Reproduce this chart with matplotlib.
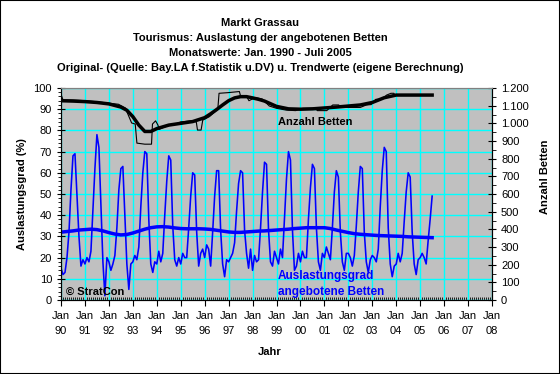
import numpy as np
import matplotlib.pyplot as plt
from matplotlib.patches import Rectangle

plt.rcParams['font.family'] = ['Liberation Sans', 'DejaVu Sans']

titel = [
    "Markt Grassau",
    "Tourismus: Auslastung der angebotenen Betten",
    "Monatswerte: Jan. 1990 - Juli 2005",
    "Original- (Quelle: Bay.LA f.Statistik u.DV) u. Trendwerte (eigene Berechnung)",
]

jahre = list(range(1990, 2009))
x_labels = [f"Jan\n{j % 100:02d}" for j in jahre]

# Auslastungsgrad in %, Monatswerte Jan 1990 - Jul 2005
auslastung = [
    15, 12, 13, 20, 32, 52, 68, 69, 50, 30, 16, 19,   # 1990
    17, 20, 18, 23, 42, 62, 78, 72, 45, 18, 2, 20,    # 1991
    18, 14, 17, 21, 34, 52, 62, 63, 40, 17, 5, 17,    # 1992
    18, 21, 19, 25, 44, 60, 70, 69, 38, 17, 13, 18,   # 1993
    17, 23, 18, 22, 40, 56, 68, 66, 35, 19, 16, 20,   # 1994
    17, 22, 20, 20, 34, 49, 60, 59, 32, 16, 22, 24,   # 1995
    20, 26, 24, 16, 32, 49, 61, 61, 33, 17, 11, 19,   # 1996
    18, 20, 22, 27, 42, 55, 61, 60, 33, 22, 15, 24,   # 1997
    14, 21, 18, 19, 34, 51, 65, 64, 33, 18, 16, 23,   # 1998
    20, 17, 24, 20, 38, 57, 70, 66, 33, 14, 16, 22,   # 1999
    18, 23, 20, 20, 38, 53, 64, 62, 34, 18, 14, 22,   # 2000
    20, 25, 22, 19, 34, 51, 61, 58, 32, 18, 14, 22,   # 2001
    22, 20, 16, 21, 35, 51, 63, 62, 32, 18, 13, 19,   # 2002
    21, 20, 18, 24, 44, 61, 72, 70, 34, 17, 11, 16,   # 2003
    17, 22, 18, 22, 37, 51, 60, 58, 32, 17, 12, 19,   # 2004
    20, 22, 20, 17, 28, 38, 49,                       # 2005
]

# Trend Auslastung, Quartalswerte
auslastung_trend = [
    32.0, 32.3, 32.6, 33.0, 33.2, 33.4, 33.2, 32.6,
    31.8, 31.1, 30.7, 30.9, 31.6, 32.5, 33.4, 34.1,
    34.5, 34.6, 34.4, 34.0, 33.7, 33.6, 33.6, 33.6,
    33.5, 33.3, 32.9, 32.5, 32.1, 31.9, 31.9, 32.1,
    32.3, 32.5, 32.6, 32.8, 33.0, 33.2, 33.4, 33.7,
    33.9, 34.1, 34.1, 34.1, 34.1, 33.7, 33.0, 32.4,
    31.8, 31.3, 31.0, 30.8, 30.6, 30.4, 30.3, 30.2,
    30.1, 30.0, 29.8, 29.7, 29.6, 29.5, 29.4,
]

# Anzahl Betten (Original)
betten_x = [1990.0, 1990.08, 1990.5, 1991.0, 1991.5, 1992.0, 1992.4, 1992.7, 1992.75,
            1992.95, 1993.1, 1993.17, 1993.5, 1993.78, 1993.82, 1993.95, 1994.05, 1994.1,
            1994.4, 1994.8, 1995.0, 1995.4, 1995.65, 1995.7, 1995.85, 1995.92, 1996.2,
            1996.45, 1996.55, 1996.6, 1997.0, 1997.45, 1997.5, 1997.75, 1997.85, 1998.1,
            1998.4, 1998.7, 1999.0, 1999.4, 1999.8, 2000.1, 2000.65, 2000.7, 2001.1,
            2001.35, 2001.6, 2001.65, 2002.0, 2002.5, 2002.75, 2002.95, 2003.15, 2003.4,
            2003.6, 2003.78, 2003.9, 2003.95, 2005.5]
betten = [1164, 1134, 1132, 1128, 1122, 1114, 1108, 1086, 1066,
          1002, 996, 888, 882, 882, 996, 1014, 990, 966,
          984, 996, 1008, 1014, 1008, 962, 962, 1018, 1038,
          1068, 1082, 1170, 1174, 1180, 1154, 1152, 1128, 1146,
          1138, 1098, 1085, 1075, 1072, 1085, 1085, 1072, 1072,
          1104, 1104, 1092, 1090, 1090, 1104, 1106, 1136, 1136,
          1160, 1170, 1170, 1160, 1160]

# Anzahl Betten (Trend)
betten_trend_x = [1990.0, 1990.5, 1991.0, 1991.5, 1992.0, 1992.5, 1992.75, 1993.0, 1993.25,
                  1993.5, 1993.75, 1994.0, 1994.5, 1995.0, 1995.5, 1996.0, 1996.25, 1996.5,
                  1996.75, 1997.0, 1997.25, 1997.5, 1997.75, 1998.0, 1998.25, 1998.5, 1998.75,
                  1999.0, 1999.5, 2000.0, 2000.5, 2001.0, 2001.5, 2002.0, 2002.5, 2003.0,
                  2003.5, 2004.0, 2004.5, 2005.0, 2005.5]
betten_trend = [1128, 1126, 1123, 1118, 1110, 1092, 1074, 1038, 990,
                954, 954, 970, 990, 1000, 1010, 1032, 1054, 1078,
                1104, 1128, 1144, 1151, 1151, 1144, 1136, 1126, 1111,
                1096, 1082, 1080, 1082, 1087, 1092, 1098, 1104, 1118,
                1145, 1160, 1160, 1160, 1160]

monate = 1990 + np.arange(len(auslastung)) / 12
trend_x = 1990 + np.arange(len(auslastung_trend)) / 4

fig = plt.figure(figsize=(5.6, 3.74), dpi=100)
ax = fig.add_axes([61 / 560, 74 / 374, 431 / 560, 212 / 374])
ax.set_facecolor('#c0c0c0')
ax.set_xlim(1990, 2008)
ax.set_ylim(0, 100)
ax.set_xticks(jahre)
ax.set_xticklabels(x_labels, linespacing=1.6)
ax.set_xticks(np.arange(1990, 2008, 1 / 12), minor=True)
ax.set_yticks(range(0, 101, 10))
ax.set_yticks(range(0, 101, 2), minor=True)
ax.grid(True, which='major', color='#00ffff', lw=1)
ax.set_axisbelow(True)
ax.tick_params(axis='x', which='major', direction='out', length=4, labelsize=8, pad=4)
ax.tick_params(axis='x', which='minor', direction='in', length=2)
ax.tick_params(axis='y', which='major', direction='inout', length=6, labelsize=8)
ax.tick_params(axis='y', which='minor', direction='out', length=2)

ax.plot(monate, auslastung, color='#0000ff', lw=1.15)
ax.plot(trend_x, auslastung_trend, color='#0000ff', lw=2.5)

ax2 = ax.twinx()
ax2.set_ylim(0, 1200)
ax2.set_yticks(range(0, 1201, 100))
ax2.set_yticklabels([f"{v:,}".replace(',', '.') for v in range(0, 1201, 100)])
ax2.set_yticks(range(0, 1201, 50), minor=True)
ax2.tick_params(axis='y', which='major', direction='inout', length=6, labelsize=8)
ax2.tick_params(axis='y', which='minor', direction='out', length=3)
ax2.plot(betten_x, betten, color='black', lw=0.8)
ax2.plot(betten_trend_x, betten_trend, color='black', lw=2.5)

for a in (ax, ax2):
    for side in ('left', 'right', 'bottom'):
        a.spines[side].set_color('black')
    a.spines['top'].set_color('#808080')

ax.text(1999.05, 83.8, "Anzahl Betten", fontsize=8, fontweight='bold', va='center')
ax.text(1999.05, 11.3, "Auslastungsgrad", fontsize=8.5, fontweight='bold', color='#0000ff', va='center')
ax.text(1999.05, 3.9, "angebotene Betten", fontsize=8.5, fontweight='bold', color='#0000ff', va='center')
ax.text(1990.2, 3.9, "© StratCon", fontsize=8, fontweight='bold', va='center')

for i, t in enumerate(titel):
    fig.text(260 / 560, 1 - (22.5 + 15.1 * i) / 374, t, ha='center', va='center',
             fontsize=8, fontweight='bold')

fig.text(22 / 560, 1 - 194 / 374, "Auslastungsgrad (%)", rotation=90, ha='center', va='center',
         fontsize=8, fontweight='bold')
fig.text(545 / 560, 1 - 177 / 374, "Anzahl Betten", rotation=90, ha='center', va='center',
         fontsize=8, fontweight='bold')
fig.text(270 / 560, 1 - 352 / 374, "Jahr", ha='center', va='center', fontsize=8, fontweight='bold')

fig.patches.append(Rectangle((0, 0), 1, 1, transform=fig.transFigure, fill=False,
                             edgecolor='black', lw=1.5))

fig.savefig('out.png', dpi=100)
